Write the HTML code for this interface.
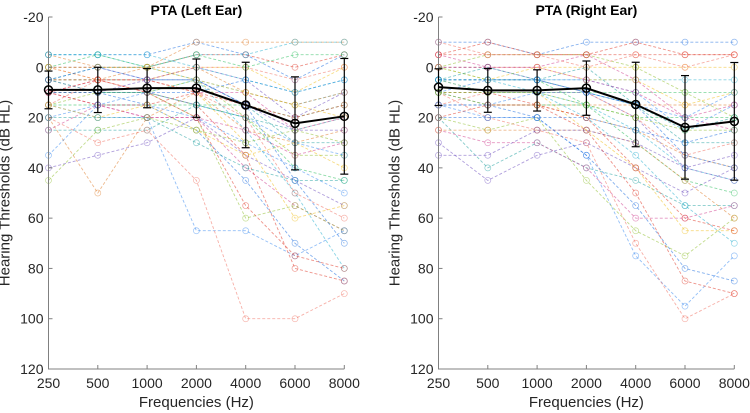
<!DOCTYPE html>
<html><head><meta charset="utf-8">
<style>
html,body{margin:0;padding:0;background:#fff;}
svg{display:block;font-family:"Liberation Sans",Arial,sans-serif;}
</style></head>
<body>
<svg id="chart" width="750" height="413" viewBox="0 0 750 413"></svg>
<script>
const freqLabels=["250","500","1000","2000","4000","6000","8000"];
const yTicks=[-20,0,20,40,60,80,100,120];
const leftMean=[9,9,8.3,8.3,15,22.3,19.5];
const leftSd=[7.5,9,7.8,11.6,17,18.5,23];
const rightMean=[7.9,9.2,9.2,8.3,14.8,23.9,21.5];
const rightSd=[7.3,8.7,8.2,10.8,16.8,20.6,23.4];
const leftSubjects=[
[-5,-5,-5,-10,-5,5,-5],[0,0,0,-5,-5,0,-5],[5,5,5,0,0,10,0],[10,10,10,5,10,15,10],
[15,15,15,15,15,20,15],[20,50,20,10,25,30,25],[40,35,30,20,35,45,55],[25,25,25,15,20,25,20],
[10,15,20,20,40,55,65],[5,10,10,20,60,55,65],[15,20,20,65,65,75,65],[20,30,25,45,100,100,90],
[10,10,15,25,45,70,85],[5,5,10,15,35,80,85],[0,5,5,10,30,60,55],[5,5,5,5,25,50,80],
[10,10,10,15,20,40,45],[-5,0,0,-10,-10,-10,-10],[0,0,5,0,5,20,10],[5,0,0,5,15,30,30],
[10,5,5,10,10,25,20],[15,10,10,5,20,35,35],[20,15,15,20,30,40,50],[0,5,5,0,0,5,0],
[5,10,10,10,5,10,5],[10,15,15,10,15,20,15],[15,20,15,25,35,30,40],[-5,-5,0,-5,-5,-10,-10],
[0,-5,0,-5,0,-5,-5],[5,5,0,0,10,15,10],[10,10,5,5,15,25,25],[20,20,20,30,40,45,45],
[25,15,20,20,25,35,30],[45,25,20,25,30,25,30],[35,15,10,15,20,30,35],[15,5,5,10,20,50,60],
[5,0,5,5,15,45,70],[10,5,10,20,55,75,80],[0,0,0,5,10,15,20],[-5,-5,-5,0,5,10,5]];
const rightSubjects=[
[-10,-10,-5,-10,-10,-10,-10],[-5,-5,-5,-5,-5,-5,-5],[0,0,0,0,0,0,0],[5,5,5,5,5,5,5],
[10,10,10,10,10,10,10],[15,15,15,15,15,15,15],[30,45,35,30,40,50,40],[20,40,30,40,45,55,55],
[25,30,30,40,60,60,55],[20,25,20,45,65,75,60],[15,20,20,35,75,95,75],[10,20,25,30,70,100,90],
[15,15,20,35,55,80,85],[10,10,15,25,50,85,90],[5,10,10,25,40,65,65],[5,5,10,20,35,55,70],
[0,5,5,15,30,45,50],[10,15,15,20,25,35,40],[0,0,5,10,20,40,35],[5,5,5,0,15,30,30],
[-5,0,0,-5,5,20,25],[0,-5,-5,-5,0,10,20],[10,5,5,5,10,25,15],[15,10,10,10,20,35,30],
[20,20,20,20,25,30,25],[-5,-10,-5,-5,-10,-5,-5],[0,5,0,5,5,15,10],[5,10,10,15,25,40,45],
[10,15,15,15,20,20,20],[25,25,25,25,30,45,60],[35,35,25,25,30,40,45],[5,0,5,10,15,25,20],
[0,0,0,5,10,20,15],[10,10,10,15,20,25,25],[15,15,10,10,15,20,10],[-10,-5,-5,0,-5,0,-5],
[5,5,5,10,15,35,40],[20,15,15,20,40,60,65]];
const palette=["#1f6fe0","#e03a2a","#f0c020","#2ab0d0","#30c060","#e08030","#7050c0","#20a0a0","#d04090","#90c030","#3a8af0","#f07060"];

const NS="http://www.w3.org/2000/svg";
const svg=document.getElementById("chart");
function mk(tag,attrs,parent){const e=document.createElementNS(NS,tag);for(const k in attrs)e.setAttribute(k,attrs[k]);(parent||svg).appendChild(e);return e;}

function panel(x0,title,subjects,mean,sd,key){
  const step=49.3, yTop=17, yBot=369;
  const xs=i=>x0+i*step;
  const ys=v=>yTop+(v+20)*(yBot-yTop)/140;
  const g=mk("g",{});
  
  
  const sg=mk("g",{},g);
  
  
  subjects.forEach((row,r)=>{
    const c=palette[r%palette.length];
    const pl=mk("polyline",{points:row.map((v,i)=>xs(i)+","+ys(v)).join(" "),fill:"none",stroke:c,"stroke-width":0.9,"stroke-dasharray":"3,2","stroke-opacity":0.55},sg);
    
    
    row.forEach((v,i)=>{
      const ci=mk("circle",{cx:xs(i),cy:ys(v),r:3,fill:"none",stroke:c,"stroke-width":0.7,"stroke-opacity":0.5},sg);
      
      
    });
  });
  // axes
  const ax=mk("path",{d:`M${x0},${yTop}V${yBot}H${xs(6)}`,fill:"none",stroke:"#808080","stroke-width":1},g);
  
  
  yTicks.forEach(t=>{
    mk("line",{x1:x0,x2:x0+4,y1:ys(t),y2:ys(t),stroke:"#808080"},g);
    const tx=mk("text",{x:x0-5,y:ys(t)+5,"text-anchor":"end","font-size":14,fill:"#262626"},g);
    tx.textContent=t;
    
    
  });
  freqLabels.forEach((f,i)=>{
    mk("line",{x1:xs(i),x2:xs(i),y1:yBot,y2:yBot-4,stroke:"#808080"},g);
    const tx=mk("text",{x:xs(i),y:388,"text-anchor":"middle","font-size":14,fill:"#262626"},g);
    tx.textContent=f;
    
    
  });
  // mean & error bars
  const mg=mk("g",{},g);
  
  
  mean.forEach((m,i)=>{
    const x=xs(i);
    mk("line",{x1:x,x2:x,y1:ys(m-sd[i]),y2:ys(m+sd[i]),stroke:"#000","stroke-width":1.2},mg);
    mk("line",{x1:x-4,x2:x+4,y1:ys(m-sd[i]),y2:ys(m-sd[i]),stroke:"#000","stroke-width":1.2},mg);
    mk("line",{x1:x-4,x2:x+4,y1:ys(m+sd[i]),y2:ys(m+sd[i]),stroke:"#000","stroke-width":1.2},mg);
  });
  const ml=mk("polyline",{points:mean.map((v,i)=>xs(i)+","+ys(v)).join(" "),fill:"none",stroke:"#000","stroke-width":2},mg);
  
  
  mean.forEach((v,i)=>{
    const c=mk("circle",{cx:xs(i),cy:ys(v),r:4,fill:"none",stroke:"#000","stroke-width":1.5},mg);
    
    
  });
  const cx=(x0+xs(6))/2;
  const tt=mk("text",{x:cx,y:15,"text-anchor":"middle","font-size":14,"font-weight":"bold",fill:"#000"},g);
  tt.textContent=title;
  
  
  const xl=mk("text",{x:cx,y:407,"text-anchor":"middle","font-size":15,fill:"#262626"},g);
  xl.textContent="Frequencies (Hz)";
  
  
  const lx=x0-39, ly=(yTop+yBot)/2;
  const yl=mk("text",{x:lx,y:ly,"text-anchor":"middle","font-size":15,fill:"#262626",transform:`rotate(-90 ${lx} ${ly})`},g);
  yl.textContent="Hearing Thresholds (dB HL)";
  
  
}
panel(48.5,"PTA (Left Ear)",leftSubjects,leftMean,leftSd,"left-ear");
panel(438.5,"PTA (Right Ear)",rightSubjects,rightMean,rightSd,"right-ear");
</script>
</body></html>
